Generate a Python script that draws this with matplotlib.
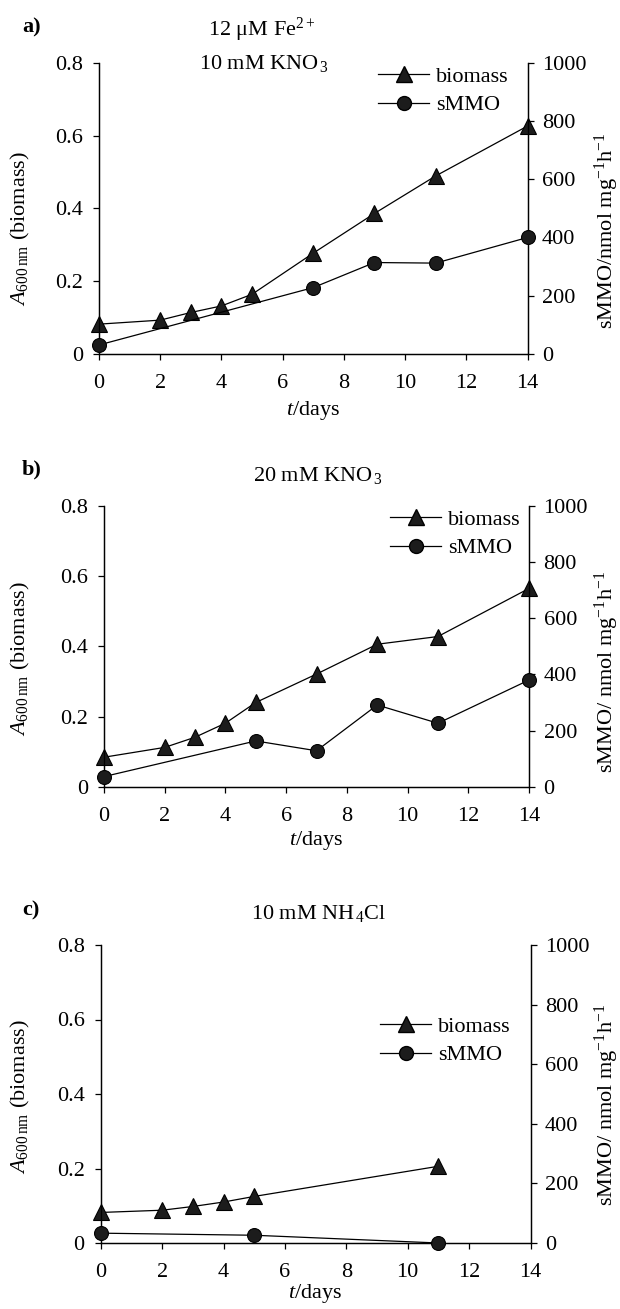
import matplotlib
matplotlib.use("Agg")
import matplotlib.pyplot as plt
from matplotlib.lines import Line2D

plt.rcParams["font.family"] = ["Liberation Serif", "DejaVu Serif"]
plt.rcParams["mathtext.fontset"] = "custom"
plt.rcParams["mathtext.rm"] = "Liberation Serif"
plt.rcParams["mathtext.it"] = "Liberation Serif:italic"
FS = 16
plt.rcParams["font.size"] = FS

# panel a: 12 uM Fe2+, 10 mM KNO3
days_a = [0, 2, 3, 4, 5, 7, 9, 11, 14]
biomass_a = [0.082, 0.093, 0.114, 0.132, 0.164, 0.277, 0.386, 0.489, 0.626]
smmo_days_a = [0, 7, 9, 11, 14]
smmo_a = [31, 228, 314, 312, 400]

# panel b: 20 mM KNO3
days_b = [0, 2, 3, 4, 5, 7, 9, 11, 14]
biomass_b = [0.084, 0.112, 0.141, 0.181, 0.240, 0.321, 0.406, 0.428, 0.565]
smmo_days_b = [0, 5, 7, 9, 11, 14]
smmo_b = [36, 163, 128, 291, 226, 380]

# panel c: 10 mM NH4Cl
days_c = [0, 2, 3, 4, 5, 11]
biomass_c = [0.082, 0.088, 0.098, 0.110, 0.125, 0.206]
smmo_days_c = [0, 5, 11]
smmo_c = [33, 26, 0]

x_ticks = [0, 2, 4, 6, 8, 10, 12, 14]
left_ticks = [0, 0.2, 0.4, 0.6, 0.8]
left_ticklabels = ["0", "0.2", "0.4", "0.6", "0.8"]
right_ticks = [0, 200, 400, 600, 800, 1000]

W, H = 620, 1309
fig = plt.figure(figsize=(W / 100, H / 100), dpi=100)


def px(x, y):
    # pixel position -> figure fraction
    return x / W, 1 - y / H


panels = [
    dict(tag="a)", box=(99, 62.7, 527.5, 354), d=days_a, bm=biomass_a, sd=smmo_days_a, s=smmo_a,
         titles=[("12 μM Fe$^{2+}$", 262, 30), (r"10 mM KNO$_{\,3}$", 264, 64)],
         tag_y=27, leg=(378, 91), ylab_y=229, rlab="sMMO/nmol mg$^{-1}$h$^{-1}$", rlab_y=231,
         xpad=4),
    dict(tag="b)", box=(104, 506, 529, 786.7), d=days_b, bm=biomass_b, sd=smmo_days_b, s=smmo_b,
         titles=[(r"20 mM KNO$_{\,3}$", 318, 475)],
         tag_y=469, leg=(390, 534), ylab_y=659, rlab="sMMO/ nmol mg$^{-1}$h$^{-1}$", rlab_y=672,
         xpad=2),
    dict(tag="c)", box=(100.7, 945, 530.5, 1243), d=days_c, bm=biomass_c, sd=smmo_days_c, s=smmo_c,
         titles=[(r"10 mM NH$_{\,4}$Cl", 319, 913)],
         tag_y=910, leg=(380, 1041), ylab_y=1097, rlab="sMMO/ nmol mg$^{-1}$h$^{-1}$", rlab_y=1105,
         xpad=0),
]

for p in panels:
    x0, y0, x1, y1 = p["box"]
    ax = fig.add_axes([x0 / W, 1 - y1 / H, (x1 - x0) / W, (y1 - y0) / H])
    ax2 = ax.twinx()

    ax.plot(p["d"], p["bm"], color="black", lw=0.9, marker="^", ms=11,
            mfc="#1c1c1c", mec="black", mew=0.8, clip_on=False, zorder=3)
    ax2.plot(p["sd"], p["s"], color="black", lw=0.9, marker="o", ms=10,
             mfc="#1c1c1c", mec="black", mew=0.8, clip_on=False, zorder=3)

    ax.set_xlim(0, 14)
    ax.set_ylim(0, 0.8)
    ax2.set_ylim(0, 1000)
    ax.set_xticks(x_ticks)
    ax.set_yticks(left_ticks)
    ax.set_yticklabels(left_ticklabels)
    ax2.set_yticks(right_ticks)

    for a in (ax, ax2):
        a.spines["top"].set_visible(False)
        for sp in a.spines.values():
            sp.set_linewidth(0.9)
    ax.tick_params(axis="both", direction="out", length=4.5, width=0.9, labelsize=FS)
    ax.tick_params(axis="y", pad=7)
    ax.tick_params(axis="x", pad=10)
    ax2.tick_params(axis="y", direction="out", length=4.5, width=0.9, labelsize=FS, pad=6)

    ax.set_xlabel(r"$t$/days", fontsize=FS, labelpad=p["xpad"])

    fig.text(*px(20, p["ylab_y"]), r"$A_{\rm 600\,nm}$ (biomass)", rotation=90,
             ha="center", va="center", fontsize=FS)
    fig.text(*px(607, p["rlab_y"]), p["rlab"], rotation=90,
             ha="center", va="center", fontsize=FS)

    fig.text(*px(22, p["tag_y"]), p["tag"], ha="left", va="center",
             fontsize=FS, fontweight="bold")
    for txt, tx, ty in p["titles"]:
        fig.text(*px(tx, ty), txt, ha="center", va="center", fontsize=FS)

    handles = [
        Line2D([], [], color="black", lw=0.9, marker="^", ms=11, mfc="#1c1c1c", mec="black"),
        Line2D([], [], color="black", lw=0.9, marker="o", ms=10, mfc="#1c1c1c", mec="black"),
    ]
    lx, ly = p["leg"]
    ax2.legend(handles, ["biomass", "sMMO"], loc="center left",
               bbox_to_anchor=px(lx, ly), bbox_transform=fig.transFigure,
               frameon=False, fontsize=FS, handlelength=2.3, handletextpad=0.3,
               labelspacing=0.35, borderpad=0, borderaxespad=0)

fig.savefig("out.png", dpi=100)
